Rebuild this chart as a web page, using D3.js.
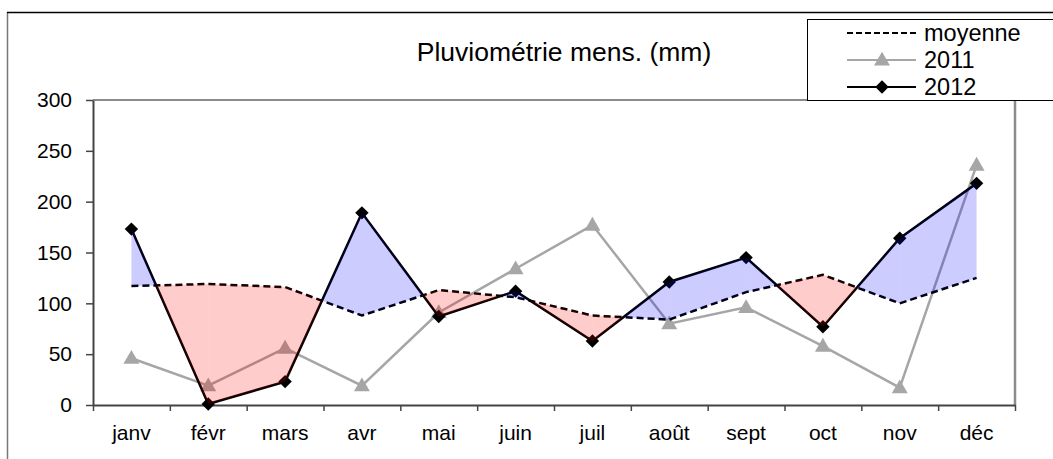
<!DOCTYPE html>
<html>
<head>
<meta charset="utf-8">
<script src="https://cdnjs.cloudflare.com/ajax/libs/d3/7.8.5/d3.min.js"></script>
<style>
  body { margin: 0; background: #fff; }
  svg { font-family: "Liberation Sans", Arial, sans-serif; }
</style>
</head>
<body>
<div id="mainArea"></div>
<script>
// data
var mois = ["janv", "févr", "mars", "avr", "mai", "juin", "juil", "août", "sept", "oct", "nov", "déc"];
var moyenne = [117, 119, 116, 88, 113, 106, 88, 84, 111, 128, 100, 125];
var pluie2011 = [46, 19, 56, 19, 91, 134, 177, 80, 96, 58, 17, 236];
var pluie2012 = [173, 1, 23, 189, 87, 112, 63, 121, 145, 77, 164, 218];
var yTicks = [0, 50, 100, 150, 200, 250, 300];

function mainInit() {
  var width = 1053, height = 459;
  var left = 93, right = 1015, top = 100, bottom = 405;

  var vis = d3.select("#mainArea").append("svg")
      .attr("width", width)
      .attr("height", height);

  // outer frame
  vis.append("line").attr("x1", 7.5).attr("x2", 7.5).attr("y1", 12).attr("y2", height)
     .style("stroke", "#777").style("stroke-width", 1.5);
  vis.append("line").attr("x1", 7).attr("x2", width).attr("y1", 12.5).attr("y2", 12.5)
     .style("stroke", "#000").style("stroke-width", 1.5);

  var x = d3.scaleBand().domain(mois).range([left, right]).padding(0);
  var xi = d3.scaleLinear().domain([0, mois.length]).range([left, right]); // category boundaries
  var y = d3.scaleLinear().domain([0, 300]).range([bottom, top]);
  var cx = function(i) { return x(mois[i]) + x.bandwidth() / 2; };

  // plot border top / right
  vis.append("line").attr("x1", left).attr("x2", right).attr("y1", top).attr("y2", top)
     .style("stroke", "#8c8c8c").style("stroke-width", 2);
  vis.append("line").attr("x1", right).attr("x2", right).attr("y1", top).attr("y2", bottom)
     .style("stroke", "#8c8c8c").style("stroke-width", 2.5);

  // axes
  var yAxis = vis.append("g").attr("transform", "translate(" + left + ",0)")
     .call(d3.axisLeft(y).tickValues(yTicks).tickSize(7).tickSizeOuter(0).tickPadding(14));
  var xAxis = vis.append("g").attr("transform", "translate(0," + bottom + ")")
     .call(d3.axisBottom(xi).tickValues(d3.range(mois.length + 1)).tickFormat("").tickSize(6).tickSizeOuter(0));
  [yAxis, xAxis].forEach(function(a) {
    a.select(".domain").style("stroke", "#444").style("stroke-width", 2);
    a.selectAll(".tick line").style("stroke", "#444").style("stroke-width", 1.5);
  });
  yAxis.selectAll("text").style("font-size", "21px").style("fill", "#000")
     .style("font-family", "Liberation Sans, Arial, sans-serif");

  vis.selectAll("text.mois").data(mois).enter().append("text")
     .attr("class", "mois")
     .attr("x", function(d) { return x(d) + x.bandwidth() / 2; })
     .attr("y", 440)
     .attr("text-anchor", "middle")
     .style("font-size", "21px")
     .text(function(d) { return d; });

  // title
  vis.append("text").attr("x", 564).attr("y", 61).attr("text-anchor", "middle")
     .style("font-size", "26.5px").text("Pluviométrie mens. (mm)");

  // 2011 line
  var line = d3.line().x(function(d, i) { return cx(i); }).y(function(d) { return y(d); });
  vis.append("path").datum(pluie2011).attr("d", line)
     .style("fill", "none").style("stroke", "#a6a6a6").style("stroke-width", 2.5);
  var tri = d3.symbol().type(d3.symbolTriangle).size(110);
  vis.selectAll("path.t2011").data(pluie2011).enter().append("path")
     .attr("class", "t2011")
     .attr("d", tri)
     .attr("transform", function(d, i) { return "translate(" + cx(i) + "," + (y(d) + 1) + ")"; })
     .style("fill", "#a6a6a6");

  // moyenne
  vis.append("path").datum(moyenne).attr("d", line)
     .style("fill", "none").style("stroke", "#000").style("stroke-width", 2.5)
     .style("stroke-dasharray", "7,4");

  // 2012
  vis.append("path").datum(pluie2012).attr("d", line)
     .style("fill", "none").style("stroke", "#000").style("stroke-width", 2.5);
  var dia = d3.symbol().type(d3.symbolSquare).size(90);
  vis.selectAll("path.d2012").data(pluie2012).enter().append("path")
     .attr("class", "d2012")
     .attr("d", dia)
     .attr("transform", function(d, i) { return "translate(" + cx(i) + "," + y(d) + ") rotate(45)"; })
     .style("fill", "#000");

  // shaded difference between 2012 and moyenne, drawn on top
  var polys = [];
  for (var i = 0; i < mois.length - 1; i++) {
    var a0 = pluie2012[i], a1 = pluie2012[i + 1], b0 = moyenne[i], b1 = moyenne[i + 1];
    var d0 = a0 - b0, d1 = a1 - b1;
    var x0 = cx(i), x1 = cx(i + 1);
    if (d0 * d1 >= 0) {
      polys.push({ up: (d0 + d1) >= 0, pts: [[x0, y(a0)], [x1, y(a1)], [x1, y(b1)], [x0, y(b0)]] });
    } else {
      var t = d0 / (d0 - d1);
      var xc = x0 + t * (x1 - x0), vc = b0 + t * (b1 - b0);
      polys.push({ up: d0 > 0, pts: [[x0, y(a0)], [xc, y(vc)], [x0, y(b0)]] });
      polys.push({ up: d1 > 0, pts: [[xc, y(vc)], [x1, y(a1)], [x1, y(b1)]] });
    }
  }
  vis.selectAll("polygon.ecart").data(polys).enter().append("polygon")
     .attr("class", "ecart")
     .attr("points", function(d) { return d.pts.map(function(p) { return p.join(","); }).join(" "); })
     .style("fill", function(d) { return d.up ? "rgb(0,0,255)" : "rgb(255,0,0)"; })
     .style("fill-opacity", 0.2);

  // legend
  var lg = vis.append("g");
  lg.append("rect").attr("x", 807.5).attr("y", 19.5).attr("width", 260).attr("height", 81)
     .style("fill", "#fff").style("stroke", "#000").style("stroke-width", 1);
  var series = [
    { name: "moyenne", color: "#000", dash: "6,3", mark: null },
    { name: "2011", color: "#a6a6a6", dash: null, mark: "tri" },
    { name: "2012", color: "#000", dash: null, mark: "dia" }
  ];
  series.forEach(function(s, k) {
    var yy = 33 + k * 27;
    lg.append("line").attr("x1", 847).attr("x2", 916).attr("y1", yy).attr("y2", yy)
      .style("stroke", s.color).style("stroke-width", 2)
      .style("stroke-dasharray", s.dash);
    if (s.mark == "tri") {
      lg.append("path").attr("d", tri).attr("transform", "translate(882," + (yy + 1) + ")").style("fill", s.color);
    } else if (s.mark == "dia") {
      lg.append("path").attr("d", dia).attr("transform", "translate(882," + yy + ") rotate(45)").style("fill", s.color);
    }
    lg.append("text").attr("x", 924).attr("y", yy + 8).style("font-size", "23.5px").text(s.name);
  });
}

window.onload = mainInit;
</script>
</body>
</html>
